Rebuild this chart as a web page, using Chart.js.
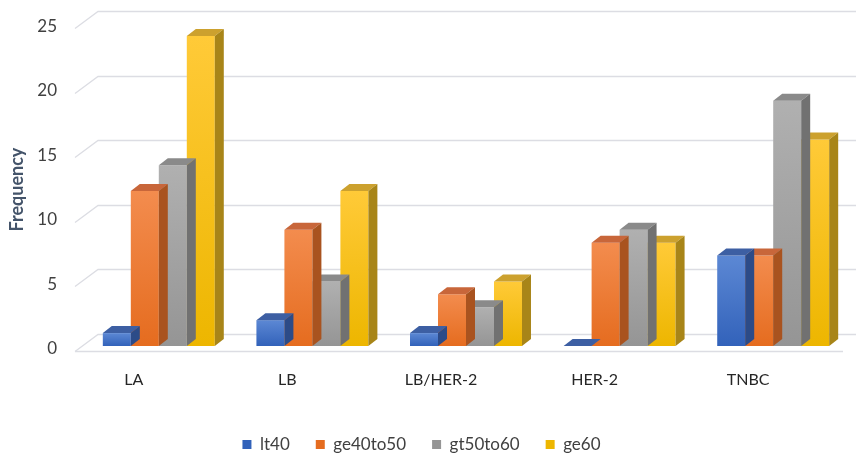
<!DOCTYPE html>
<html>
<head>
<meta charset="utf-8">
<script src="https://cdn.jsdelivr.net/npm/chart.js@4/dist/chart.umd.min.js"></script>
<style>
  html, body { margin: 0; padding: 0; background: #ffffff; }
  #wrap { width: 856px; height: 458px; }
</style>
</head>
<body>
<div id="wrap"><canvas id="chart" width="856" height="458"></canvas></div>
<script>
// Subtype categories and age-group frequencies
const categories = ['LA', 'LB', 'LB/HER-2', 'HER-2', 'TNBC'];
const seriesNames = ['lt40', 'ge40to50', 'gt50to60', 'ge60'];
const lt40     = [1, 2, 1, 0, 7];
const ge40to50 = [12, 9, 4, 8, 7];
const gt50to60 = [14, 5, 3, 9, 19];
const ge60     = [24, 12, 5, 8, 16];
const yMin = 0, yMax = 25, yStep = 5;

// Shading for each series: front gradient (top, bottom), top face, side face
const palette = [
  { solid: '#4472C4', light: '#5C88D4', dark: '#3262BA', top: '#3D5FA3', side: '#2C4B88' },
  { solid: '#ED7D31', light: '#F38C4E', dark: '#E56C1F', top: '#C8663A', side: '#A9531F' },
  { solid: '#A5A5A5', light: '#B0B0B0', dark: '#959595', top: '#8A8A8A', side: '#717171' },
  { solid: '#FFC000', light: '#FFCA38', dark: '#EDB600', top: '#CCA12E', side: '#A88518' }
];

// Pseudo-3D geometry (pixels)
const BAR_DX = 9, BAR_DY = 7;        // depth of each bar
const SHIFT_X = 7, SHIFT_Y = -5;     // bars sit slightly behind the front floor edge
const WALL_DX = 23, WALL_DY = 17;    // back wall offset
const GRID_COLOR = '#dcdde3';

function frontFill(i) {
  return function (ctx) {
    const p = palette[i];
    const chart = ctx.chart;
    if (ctx.type !== 'data' || !chart.chartArea) return p.solid;
    const ys = chart.scales.y;
    const top = ys.getPixelForValue(ctx.raw);
    const bot = ys.getPixelForValue(0);
    if (bot - top < 1) return p.solid;
    const g = chart.ctx.createLinearGradient(0, top, 0, bot);
    g.addColorStop(0, p.light);
    g.addColorStop(1, p.dark);
    return g;
  };
}

const depthPlugin = {
  id: 'depth',
  beforeDatasetsDraw(chart) {
    const { ctx, chartArea, scales } = chart;
    const ys = scales.y;
    ctx.save();
    ctx.strokeStyle = GRID_COLOR;
    ctx.lineWidth = 1.3;
    ys.ticks.forEach(t => {
      const y = Math.round(ys.getPixelForValue(t.value)) + 0.5;
      ctx.beginPath();
      ctx.moveTo(chartArea.left, y);
      ctx.lineTo(chartArea.left + WALL_DX, y - WALL_DY);
      ctx.lineTo(chart.width, y - WALL_DY);
      ctx.stroke();
    });
    // front edge of the floor
    const y0 = Math.round(ys.getPixelForValue(0)) + 0.5;
    ctx.beginPath();
    ctx.moveTo(chartArea.left, y0);
    ctx.lineTo(chartArea.right, y0);
    ctx.stroke();
    ctx.restore();
  },
  beforeDatasetDraw(chart) {
    chart.ctx.save();
    chart.ctx.translate(SHIFT_X, SHIFT_Y);
  },
  afterDatasetDraw(chart, args) {
    const ctx = chart.ctx;
    const p = palette[args.index];
    args.meta.data.forEach(bar => {
      const { x, y, base, width } = bar.getProps(['x', 'y', 'base', 'width'], true);
      const x0 = x - width / 2, x1 = x + width / 2;
      // top face
      ctx.fillStyle = p.top;
      ctx.beginPath();
      ctx.moveTo(x0, y);
      ctx.lineTo(x0 + BAR_DX, y - BAR_DY);
      ctx.lineTo(x1 + BAR_DX, y - BAR_DY);
      ctx.lineTo(x1, y);
      ctx.closePath();
      ctx.fill();
      // right side face
      if (base - y > 0.5) {
        ctx.fillStyle = p.side;
        ctx.beginPath();
        ctx.moveTo(x1, y);
        ctx.lineTo(x1 + BAR_DX, y - BAR_DY);
        ctx.lineTo(x1 + BAR_DX, base - BAR_DY);
        ctx.lineTo(x1, base);
        ctx.closePath();
        ctx.fill();
      }
    });
    ctx.restore();
  }
};

const seriesValues = [lt40, ge40to50, gt50to60, ge60];

new Chart(document.getElementById('chart'), {
  type: 'bar',
  data: {
    labels: categories,
    datasets: seriesValues.map((vals, i) => ({
      label: seriesNames[i],
      data: vals,
      backgroundColor: frontFill(i),
      borderWidth: 0,
      clip: false,
      categoryPercentage: 0.729,
      barPercentage: 1.0
    }))
  },
  options: {
    responsive: false,
    animation: false,
    layout: { padding: { left: 0, right: 13, top: 28, bottom: -5 } },
    plugins: {
      legend: {
        position: 'bottom',
        labels: {
          boxWidth: 9,
          boxHeight: 9,
          padding: 26,
          color: '#404040',
          font: { family: 'Lato', size: 17 }
        }
      },
      tooltip: { enabled: false }
    },
    scales: {
      x: {
        grid: { display: false, drawTicks: false },
        border: { display: false },
        ticks: {
          color: '#262626',
          font: { family: 'Lato', size: 16 },
          padding: 19,
          labelOffset: -18,
          maxRotation: 0
        },
        afterFit(s) { s.height = 59; }
      },
      y: {
        min: yMin,
        max: yMax,
        grid: { display: false, drawTicks: false },
        border: { display: false },
        ticks: {
          stepSize: yStep,
          color: '#404040',
          font: { family: 'Lato', size: 17 },
          padding: 18,
          labelOffset: -2
        },
        title: {
          display: true,
          text: 'Frequency',
          color: '#44546A',
          font: { family: 'Lato', size: 18, weight: 'bold' },
          padding: { top: 6, bottom: 0 }
        },
        afterFit(s) { s.width = 75; }
      }
    }
  },
  plugins: [depthPlugin]
});
</script>
</body>
</html>
